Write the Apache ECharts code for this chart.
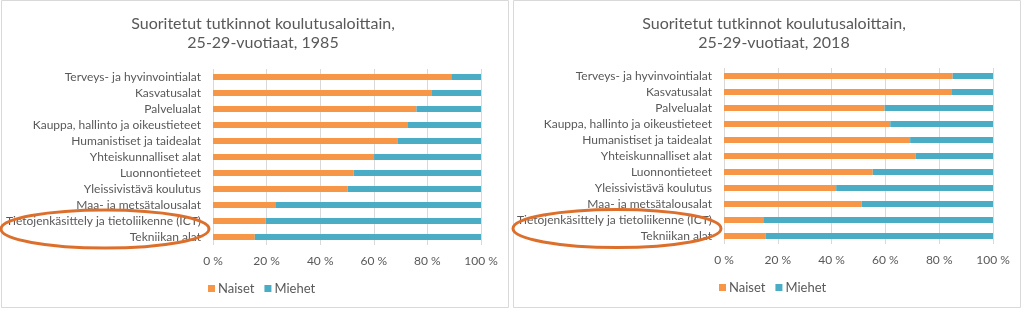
<!DOCTYPE html>
<html><head><meta charset="utf-8">
<script src="https://cdn.jsdelivr.net/npm/echarts@6/dist/echarts.min.js"></script>
<style>html,body{margin:0;padding:0;background:#fff}#c{width:1024px;height:310px}</style>
</head><body><div id="c"></div>
<script>
const categories = [
  "Terveys- ja hyvinvointialat",
  "Kasvatusalat",
  "Palvelualat",
  "Kauppa, hallinto ja oikeustieteet",
  "Humanistiset ja taidealat",
  "Yhteiskunnalliset alat",
  "Luonnontieteet",
  "Yleissivistävä koulutus",
  "Maa- ja metsätalousalat",
  "Tietojenkäsittely ja tietoliikenne (ICT)",
  "Tekniikan alat"
];
const naiset1985 = [88.9, 81.7, 75.9, 72.5, 69.0, 60.1, 52.5, 50.2, 23.5, 19.6, 15.6];
const miehet1985 = [11.1, 18.3, 24.1, 27.5, 31.0, 39.9, 47.5, 49.8, 76.5, 80.4, 84.4];
const naiset2018 = [85.0, 84.5, 59.7, 61.8, 69.2, 71.3, 55.3, 41.7, 51.2, 14.6, 15.4];
const miehet2018 = [15.0, 15.5, 40.3, 38.2, 30.8, 28.7, 44.7, 58.3, 48.8, 85.4, 84.6];
const xTicks = [0, 20, 40, 60, 80, 100];
const titles = ["Suoritetut tutkinnot koulutusaloittain,\n25-29-vuotiaat, 1985",
                "Suoritetut tutkinnot koulutusaloittain,\n25-29-vuotiaat, 2018"];
const seriesNames = ["Naiset", "Miehet"];

const FONT = "Lato";
const TXT = "#595959";
const ORANGE = "#F79646", BLUE = "#4BACC6";

const chart = echarts.init(document.getElementById('c'), null, {renderer: 'canvas'});
const grids = [
  {left: 213, top: 69, width: 268, height: 176},
  {left: 724, top: 68, width: 269, height: 176}
];
function xAx(i){return {type:'value', gridIndex:i, min:xTicks[0], max:xTicks[xTicks.length-1], interval:20,
  axisLine:{show:false}, axisTick:{show:false},
  splitLine:{lineStyle:{color:'#d9d9d9', width:1}},
  axisLabel:{formatter:'{value} %', color:TXT, fontFamily:FONT, fontSize:12, margin:10}};}
function yAx(i){return {type:'category', gridIndex:i, data:categories, inverse:true,
  axisLine:{show:false}, axisTick:{show:false},
  axisLabel:{color:TXT, fontFamily:FONT, fontSize:12, margin:12}};}
function ser(name, data, i, color){return {name, type:'bar', stack:'s'+i, xAxisIndex:i, yAxisIndex:i,
  data, barWidth:6, itemStyle:{color}, silent:true};}
const titleStyle = {color:TXT, fontFamily:FONT, fontSize:16, fontWeight:'normal', lineHeight:19};
const legendBase = {data:seriesNames, icon:'rect', itemWidth:7, itemHeight:7, itemGap:10,
  textStyle:{color:TXT, fontFamily:FONT, fontSize:13, padding:[0,0,0,-2]}};
const option = {
  animation:false,
  textStyle:{fontFamily:FONT},
  title: [
    {text:titles[0], left:258, top:9, textAlign:'center', textStyle:titleStyle},
    {text:titles[1], left:769, top:9, textAlign:'center', textStyle:titleStyle}
  ],
  legend: [
    Object.assign({left:203, top:277}, legendBase),
    Object.assign({left:714, top:276}, legendBase)
  ],
  grid: grids,
  xAxis:[xAx(0), xAx(1)],
  yAxis:[yAx(0), yAx(1)],
  series:[
    ser(seriesNames[0], naiset1985, 0, ORANGE),
    ser(seriesNames[1], miehet1985, 0, BLUE),
    ser(seriesNames[0], naiset2018, 1, ORANGE),
    ser(seriesNames[1], miehet2018, 1, BLUE)
  ],
  graphic:[
    {type:'rect', shape:{x:1.5, y:0.5, width:507, height:307}, style:{fill:null, stroke:'#d9d9d9', lineWidth:1}, silent:true},
    {type:'rect', shape:{x:513.5, y:0.5, width:507, height:307}, style:{fill:null, stroke:'#d9d9d9', lineWidth:1}, silent:true},
    {type:'ellipse', shape:{cx:105, cy:229, rx:104, ry:19}, style:{fill:null, stroke:'#DD6F2C', lineWidth:3}, silent:true, z:100},
    {type:'ellipse', shape:{cx:617, cy:228.5, rx:104, ry:19}, style:{fill:null, stroke:'#DD6F2C', lineWidth:3}, silent:true, z:100}
  ]
};
chart.setOption(option);
</script></body></html>
